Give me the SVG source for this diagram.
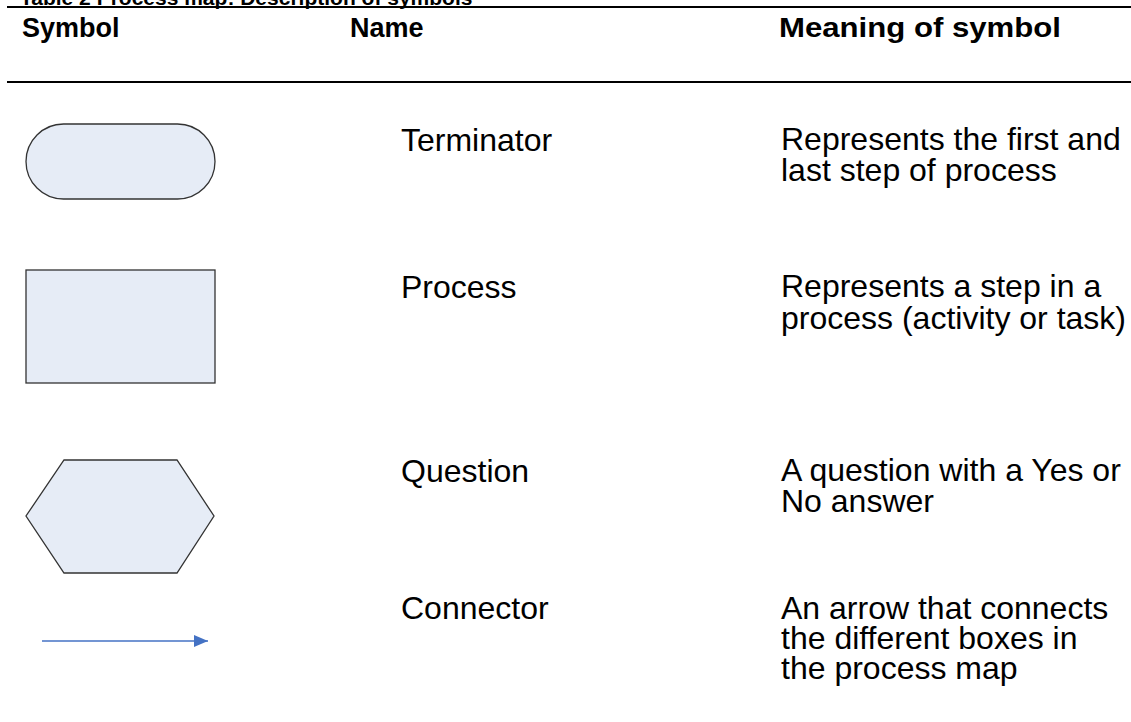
<svg xmlns="http://www.w3.org/2000/svg" width="1131" height="722" viewBox="0 0 1131 722">
<style>
.h{font-family:"Liberation Sans",Arial,sans-serif;font-weight:bold;font-size:27px;fill:#000}
.t{font-family:"Liberation Sans",Arial,sans-serif;font-size:32px;fill:#000}
.shape{fill:#E6ECF6;stroke:#333;stroke-width:1.3}
.rule{stroke:#000;stroke-width:2}
</style>
<defs>
<marker id="ah" markerWidth="14" markerHeight="12" refX="14" refY="6" orient="auto" markerUnits="userSpaceOnUse">
<path d="M0,0 L14,6 L0,12 Z" fill="#4472C4"/>
</marker>
</defs>
<rect width="1131" height="722" fill="#fff"/>
<text class="h" x="20" y="5" style="font-size:21px">Table 2 Process map: Description of symbols</text>
<line class="rule" x1="7" y1="7" x2="1131" y2="7"/>
<line class="rule" x1="7" y1="82" x2="1131" y2="82"/>
<g id="header">
<text class="h" x="22" y="37">Symbol</text>
<text class="h" x="350" y="37">Name</text>
<text class="h" x="779" y="37" textLength="282" lengthAdjust="spacingAndGlyphs">Meaning of symbol</text>
</g>
<g id="terminator">
<rect class="shape" x="26" y="124" width="189" height="75" rx="37.5" ry="37.5"/>
<text class="t" x="401" y="151">Terminator</text>
<text class="t" x="781" y="150">Represents the first and</text>
<text class="t" x="781" y="181">last step of process</text>
</g>
<g id="process">
<rect class="shape" x="26" y="270" width="189" height="113"/>
<text class="t" x="401" y="298">Process</text>
<text class="t" x="781" y="297">Represents a step in a</text>
<text class="t" x="781" y="329">process (activity or task)</text>
</g>
<g id="question">
<polygon class="shape" points="64,460 177,460 214,516 177,573 64,573 26,516"/>
<text class="t" x="401" y="482">Question</text>
<text class="t" x="781" y="481">A question with a Yes or</text>
<text class="t" x="781" y="512">No answer</text>
</g>
<g id="connectors">
<line x1="42" y1="641" x2="208" y2="641" stroke="#4472C4" stroke-width="1.3" marker-end="url(#ah)"/>
</g>
<g id="connector-row">
<text class="t" x="401" y="619">Connector</text>
<text class="t" x="781" y="619">An arrow that connects</text>
<text class="t" x="781" y="649">the different boxes in</text>
<text class="t" x="781" y="679">the process map</text>
</g>
</svg>
